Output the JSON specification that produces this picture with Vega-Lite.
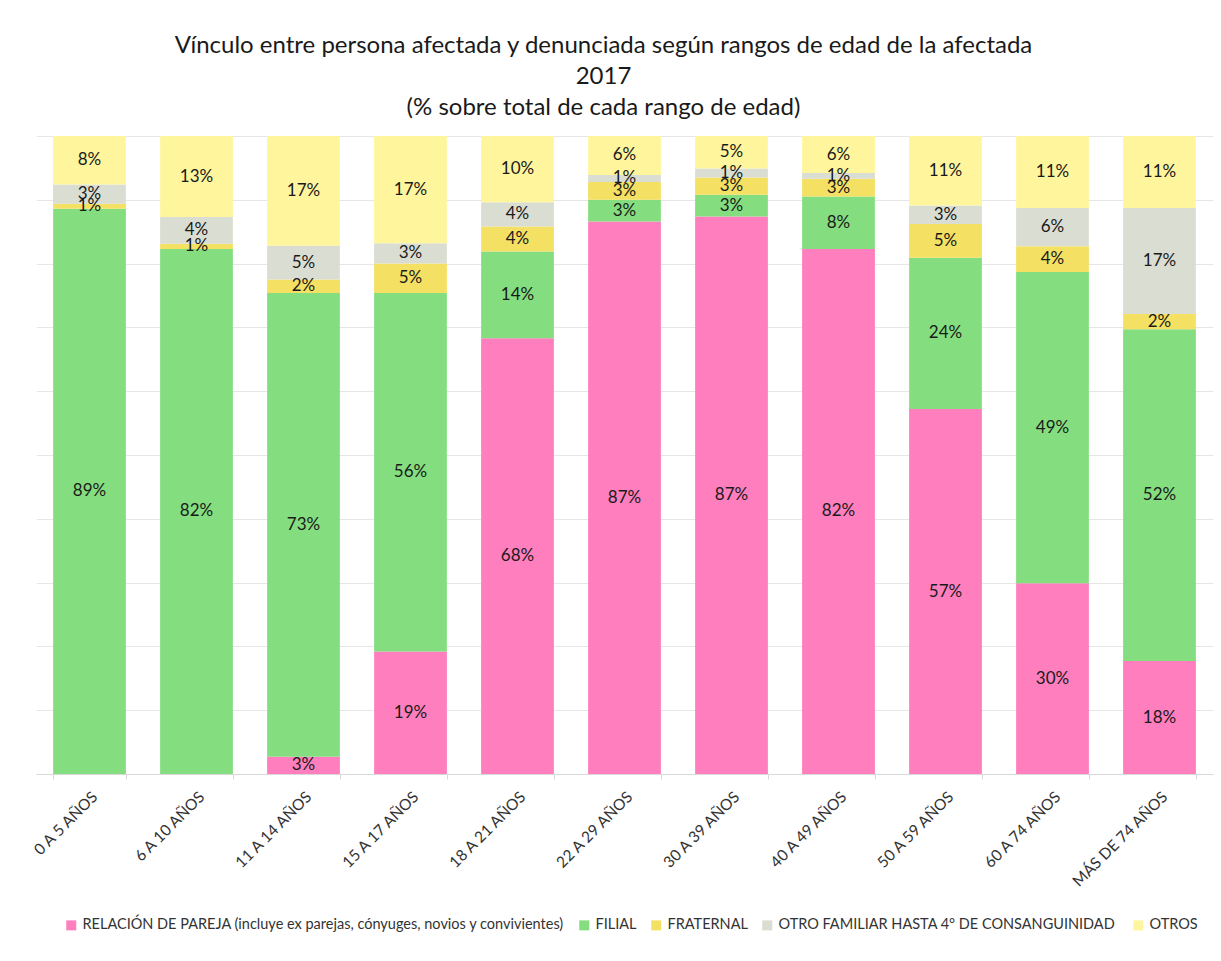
{
  "$schema": "https://vega.github.io/schema/vega-lite/v6.json",
  "autosize": {"type": "none"},
  "width": 1177,
  "height": 638,
  "padding": {"left": 36, "top": 136, "right": 8, "bottom": 187},
  "background": "white",
  "config": {"font": "Lato", "view": {"stroke": null}},
  "title": {
    "text": ["Vínculo entre persona afectada y denunciada según rangos de edad de la afectada", "2017", "(% sobre total de cada rango de edad)"],
    "fontSize": 24,
    "fontWeight": "normal",
    "color": "#1a1a1a",
    "lineHeight": 31,
    "anchor": "middle",
    "dx": -21,
    "offset": 16
  },
  "data": {
    "values": [
      {"edad": "0 A 5 AÑOS", "vinculo": "FILIAL", "o": 1, "v": 0.886},
      {"edad": "0 A 5 AÑOS", "vinculo": "FRATERNAL", "o": 2, "v": 0.008},
      {"edad": "0 A 5 AÑOS", "vinculo": "OTRO FAMILIAR  HASTA 4° DE CONSANGUINIDAD", "o": 3, "v": 0.030},
      {"edad": "0 A 5 AÑOS", "vinculo": "OTROS", "o": 4, "v": 0.076},

      {"edad": "6 A 10 AÑOS", "vinculo": "FILIAL", "o": 1, "v": 0.823},
      {"edad": "6 A 10 AÑOS", "vinculo": "FRATERNAL", "o": 2, "v": 0.008},
      {"edad": "6 A 10 AÑOS", "vinculo": "OTRO FAMILIAR  HASTA 4° DE CONSANGUINIDAD", "o": 3, "v": 0.042},
      {"edad": "6 A 10 AÑOS", "vinculo": "OTROS", "o": 4, "v": 0.127},

      {"edad": "11 A 14 AÑOS", "vinculo": "RELACIÓN DE PAREJA (incluye ex parejas, cónyuges, novios y convivientes)", "o": 0, "v": 0.027},
      {"edad": "11 A 14 AÑOS", "vinculo": "FILIAL", "o": 1, "v": 0.727},
      {"edad": "11 A 14 AÑOS", "vinculo": "FRATERNAL", "o": 2, "v": 0.021},
      {"edad": "11 A 14 AÑOS", "vinculo": "OTRO FAMILIAR  HASTA 4° DE CONSANGUINIDAD", "o": 3, "v": 0.053},
      {"edad": "11 A 14 AÑOS", "vinculo": "OTROS", "o": 4, "v": 0.172},

      {"edad": "15 A 17 AÑOS", "vinculo": "RELACIÓN DE PAREJA (incluye ex parejas, cónyuges, novios y convivientes)", "o": 0, "v": 0.192},
      {"edad": "15 A 17 AÑOS", "vinculo": "FILIAL", "o": 1, "v": 0.562},
      {"edad": "15 A 17 AÑOS", "vinculo": "FRATERNAL", "o": 2, "v": 0.046},
      {"edad": "15 A 17 AÑOS", "vinculo": "OTRO FAMILIAR  HASTA 4° DE CONSANGUINIDAD", "o": 3, "v": 0.032},
      {"edad": "15 A 17 AÑOS", "vinculo": "OTROS", "o": 4, "v": 0.168},

      {"edad": "18 A 21 AÑOS", "vinculo": "RELACIÓN DE PAREJA (incluye ex parejas, cónyuges, novios y convivientes)", "o": 0, "v": 0.683},
      {"edad": "18 A 21 AÑOS", "vinculo": "FILIAL", "o": 1, "v": 0.136},
      {"edad": "18 A 21 AÑOS", "vinculo": "FRATERNAL", "o": 2, "v": 0.039},
      {"edad": "18 A 21 AÑOS", "vinculo": "OTRO FAMILIAR  HASTA 4° DE CONSANGUINIDAD", "o": 3, "v": 0.038},
      {"edad": "18 A 21 AÑOS", "vinculo": "OTROS", "o": 4, "v": 0.104},

      {"edad": "22 A 29 AÑOS", "vinculo": "RELACIÓN DE PAREJA (incluye ex parejas, cónyuges, novios y convivientes)", "o": 0, "v": 0.866},
      {"edad": "22 A 29 AÑOS", "vinculo": "FILIAL", "o": 1, "v": 0.034},
      {"edad": "22 A 29 AÑOS", "vinculo": "FRATERNAL", "o": 2, "v": 0.028},
      {"edad": "22 A 29 AÑOS", "vinculo": "OTRO FAMILIAR  HASTA 4° DE CONSANGUINIDAD", "o": 3, "v": 0.011},
      {"edad": "22 A 29 AÑOS", "vinculo": "OTROS", "o": 4, "v": 0.061},

      {"edad": "30 A 39 AÑOS", "vinculo": "RELACIÓN DE PAREJA (incluye ex parejas, cónyuges, novios y convivientes)", "o": 0, "v": 0.874},
      {"edad": "30 A 39 AÑOS", "vinculo": "FILIAL", "o": 1, "v": 0.034},
      {"edad": "30 A 39 AÑOS", "vinculo": "FRATERNAL", "o": 2, "v": 0.027},
      {"edad": "30 A 39 AÑOS", "vinculo": "OTRO FAMILIAR  HASTA 4° DE CONSANGUINIDAD", "o": 3, "v": 0.014},
      {"edad": "30 A 39 AÑOS", "vinculo": "OTROS", "o": 4, "v": 0.051},

      {"edad": "40 A 49 AÑOS", "vinculo": "RELACIÓN DE PAREJA (incluye ex parejas, cónyuges, novios y convivientes)", "o": 0, "v": 0.823},
      {"edad": "40 A 49 AÑOS", "vinculo": "FILIAL", "o": 1, "v": 0.082},
      {"edad": "40 A 49 AÑOS", "vinculo": "FRATERNAL", "o": 2, "v": 0.028},
      {"edad": "40 A 49 AÑOS", "vinculo": "OTRO FAMILIAR  HASTA 4° DE CONSANGUINIDAD", "o": 3, "v": 0.009},
      {"edad": "40 A 49 AÑOS", "vinculo": "OTROS", "o": 4, "v": 0.058},

      {"edad": "50 A 59 AÑOS", "vinculo": "RELACIÓN DE PAREJA (incluye ex parejas, cónyuges, novios y convivientes)", "o": 0, "v": 0.572},
      {"edad": "50 A 59 AÑOS", "vinculo": "FILIAL", "o": 1, "v": 0.237},
      {"edad": "50 A 59 AÑOS", "vinculo": "FRATERNAL", "o": 2, "v": 0.053},
      {"edad": "50 A 59 AÑOS", "vinculo": "OTRO FAMILIAR  HASTA 4° DE CONSANGUINIDAD", "o": 3, "v": 0.029},
      {"edad": "50 A 59 AÑOS", "vinculo": "OTROS", "o": 4, "v": 0.109},

      {"edad": "60 A 74 AÑOS", "vinculo": "RELACIÓN DE PAREJA (incluye ex parejas, cónyuges, novios y convivientes)", "o": 0, "v": 0.299},
      {"edad": "60 A 74 AÑOS", "vinculo": "FILIAL", "o": 1, "v": 0.488},
      {"edad": "60 A 74 AÑOS", "vinculo": "FRATERNAL", "o": 2, "v": 0.040},
      {"edad": "60 A 74 AÑOS", "vinculo": "OTRO FAMILIAR  HASTA 4° DE CONSANGUINIDAD", "o": 3, "v": 0.060},
      {"edad": "60 A 74 AÑOS", "vinculo": "OTROS", "o": 4, "v": 0.113},

      {"edad": "MÁS DE 74 AÑOS", "vinculo": "RELACIÓN DE PAREJA (incluye ex parejas, cónyuges, novios y convivientes)", "o": 0, "v": 0.177},
      {"edad": "MÁS DE 74 AÑOS", "vinculo": "FILIAL", "o": 1, "v": 0.520},
      {"edad": "MÁS DE 74 AÑOS", "vinculo": "FRATERNAL", "o": 2, "v": 0.024},
      {"edad": "MÁS DE 74 AÑOS", "vinculo": "OTRO FAMILIAR  HASTA 4° DE CONSANGUINIDAD", "o": 3, "v": 0.166},
      {"edad": "MÁS DE 74 AÑOS", "vinculo": "OTROS", "o": 4, "v": 0.113}
    ]
  },
  "transform": [
    {"stack": "v", "groupby": ["edad"], "sort": [{"field": "o", "order": "ascending"}], "as": ["y0", "y1"]},
    {"calculate": "(datum.y0 + datum.y1) / 2", "as": "ym"}
  ],
  "encoding": {
    "x": {
      "field": "edad",
      "type": "nominal",
      "sort": ["0 A 5 AÑOS", "6 A 10 AÑOS", "11 A 14 AÑOS", "15 A 17 AÑOS", "18 A 21 AÑOS", "22 A 29 AÑOS", "30 A 39 AÑOS", "40 A 49 AÑOS", "50 A 59 AÑOS", "60 A 74 AÑOS", "MÁS DE 74 AÑOS"],
      "scale": {"paddingInner": 0.32, "paddingOuter": 0.16},
      "axis": {
        "title": null,
        "labelAngle": -45,
        "labelFontSize": 15.5,
        "labelColor": "#333333",
        "labelPadding": 10,
        "domainColor": "#d9d9d9",
        "tickColor": "#d9d9d9",
        "tickBand": "extent",
        "tickSize": 5,
        "grid": false
      }
    }
  },
  "layer": [
    {
      "mark": {"type": "bar"},
      "encoding": {
        "y": {
          "field": "y0",
          "type": "quantitative",
          "scale": {"domain": [0, 1], "nice": false},
          "axis": {
            "title": null,
            "values": [0, 0.1, 0.2, 0.3, 0.4, 0.5, 0.6, 0.7, 0.8, 0.9, 1],
            "labels": false,
            "ticks": false,
            "domain": false,
            "grid": true,
            "gridColor": "#e6e6e6"
          }
        },
        "y2": {"field": "y1"},
        "color": {
          "field": "vinculo",
          "type": "nominal",
          "scale": {
            "domain": ["RELACIÓN DE PAREJA (incluye ex parejas, cónyuges, novios y convivientes)", "FILIAL", "FRATERNAL", "OTRO FAMILIAR  HASTA 4° DE CONSANGUINIDAD", "OTROS"],
            "range": ["#FF7EBD", "#84DE7F", "#F4E063", "#DADED2", "#FEF59D"]
          },
          "legend": {
            "title": null,
            "orient": "none",
            "legendX": 28,
            "legendY": 782,
            "direction": "horizontal",
            "symbolType": "square",
            "symbolSize": 100,
            "symbolStrokeWidth": 0,
            "labelFontSize": 14.5,
            "labelOffset": 4,
            "labelColor": "#333333",
            "labelLimit": 0,
            "columnPadding": 12
          }
        }
      }
    },
    {
      "mark": {"type": "text", "fontSize": 17, "color": "#1a1a1a", "baseline": "middle"},
      "encoding": {
        "y": {"field": "ym", "type": "quantitative"},
        "text": {"field": "v", "type": "quantitative", "format": ".0%"}
      }
    }
  ]
}
